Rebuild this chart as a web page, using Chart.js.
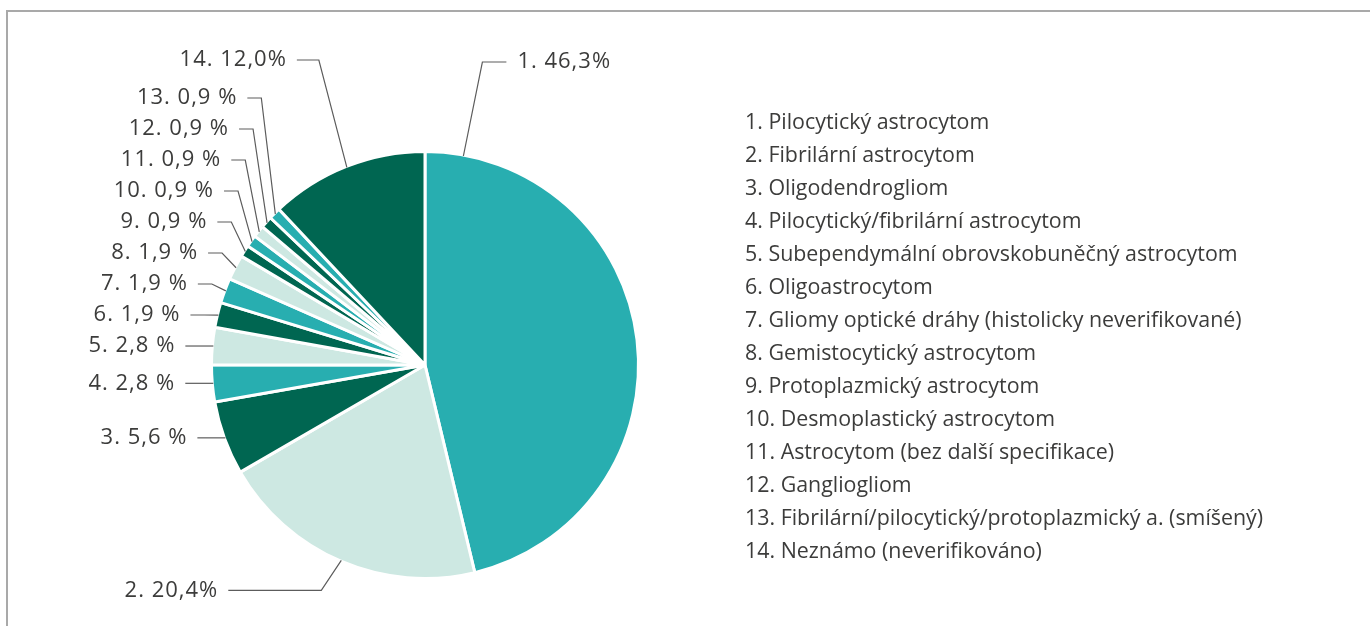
<!DOCTYPE html>
<html>
<head>
<meta charset="utf-8">
<script src="https://cdn.jsdelivr.net/npm/chart.js@4"></script>
<style>
  body { margin: 0; background: #fff; }
  #frame {
    position: absolute; left: 6px; top: 10px; width: 1400px; height: 700px;
    border-top: 2px solid #a9a9a9; border-left: 2px solid #a9a9a9;
  }
  #wrap { position: absolute; left: 0; top: 0; width: 1370px; height: 626px; }
</style>
</head>
<body>
<div id="frame"></div>
<div id="wrap"><canvas id="pieChart" width="1370" height="626"></canvas></div>
<script>
const categories = [
  "Pilocytický astrocytom",
  "Fibrilární astrocytom",
  "Oligodendrogliom",
  "Pilocytický/fibrilární astrocytom",
  "Subependymální obrovskobuněčný astrocytom",
  "Oligoastrocytom",
  "Gliomy optické dráhy (histolicky neverifikované)",
  "Gemistocytický astrocytom",
  "Protoplazmický astrocytom",
  "Desmoplastický astrocytom",
  "Astrocytom (bez další specifikace)",
  "Gangliogliom",
  "Fibrilární/pilocytický/protoplazmický a. (smíšený)",
  "Neznámo (neverifikováno)",
];
const shares = [46.3, 20.4, 5.6, 2.8, 2.8, 1.9, 1.9, 1.9, 0.9, 0.9, 0.9, 0.9, 0.9, 12.0];
const shareLabels = [
  "46,3%", "20,4%", "5,6 %", "2,8 %", "2,8 %", "1,9 %", "1,9 %",
  "1,9 %", "0,9 %", "0,9 %", "0,9 %", "0,9 %", "0,9 %", "12,0%",
];

const TEAL = "#28aeb0";
const LIGHT = "#cde8e2";
const DARK = "#006651";
const sliceColors = [TEAL, LIGHT, DARK, TEAL, LIGHT, DARK, TEAL, LIGHT, DARK, TEAL, LIGHT, DARK, TEAL, DARK];

const TEXT = "#3c3c3b";

// leader lines + numbered labels round the pie, list of names on the right
const labelPlugin = {
  id: "leaders",
  afterDraw(chart) {
    const ctx = chart.ctx;
    const arcs = chart.getDatasetMeta(0).data;
    const n = arcs.length;
    ctx.save();
    ctx.font = '22px "Open Sans"';
    ctx.letterSpacing = "1px";
    ctx.fillStyle = TEXT;
    ctx.strokeStyle = "#5c5c5c";
    ctx.lineWidth = 1.2;
    ctx.textBaseline = "middle";

    const spots = arcs.map((arc, i) => {
      const p = arc.getProps(["x", "y", "startAngle", "endAngle", "outerRadius"], true);
      const f = i === 0 ? 0.0625 : 0.5;
      const a = p.startAngle + (p.endAngle - p.startAngle) * f;
      const r = p.outerRadius - 1;
      return { x: p.x + r * Math.cos(a), y: p.y + r * Math.sin(a) };
    });

    // stack the small left-hand labels upwards so they do not collide
    const rows = [];
    let prev = Infinity;
    for (let i = 2; i < n; i++) {
      const gap = i === n - 1 ? 38 : 31;
      rows[i] = Math.min(spots[i].y, prev - gap);
      prev = rows[i];
    }
    rows[1] = spots[1].y + 30;
    rows[0] = rows[n - 1] + 2;

    for (let i = 0; i < n; i++) {
      const s = spots[i];
      const y = rows[i];
      const text = (i + 1) + ". " + shareLabels[i];
      ctx.beginPath();
      ctx.moveTo(s.x, s.y);
      if (i === 0) {
        const ex = s.x + 19;
        ctx.lineTo(ex, y);
        ctx.lineTo(ex + 24, y);
        ctx.stroke();
        ctx.textAlign = "left";
        ctx.fillText(text, ex + 35, y);
      } else {
        let dx = 14, seg = 14;
        if (i === 1) { dx = 20; seg = 93; }
        if (i === n - 1) { dx = 28; seg = 22; }
        const ex = s.x - dx;
        ctx.lineTo(ex, y);
        ctx.lineTo(ex - seg, y);
        ctx.stroke();
        ctx.textAlign = "right";
        ctx.fillText(text, ex - seg - 10, y);
      }
    }

    ctx.letterSpacing = "0px";
    ctx.font = '21.4px "Open Sans"';
    ctx.textAlign = "left";
    categories.forEach((name, i) => {
      ctx.fillText((i + 1) + ". " + name, 745, 123 + i * 33);
    });
    ctx.restore();
  },
};

new Chart(document.getElementById("pieChart"), {
  type: "pie",
  data: {
    labels: categories,
    datasets: [
      {
        data: shares,
        backgroundColor: sliceColors,
        borderColor: "#ffffff",
        borderWidth: 3,
      },
    ],
  },
  options: {
    responsive: false,
    animation: false,
    layout: { padding: { left: 210, right: 730, top: 150, bottom: 46 } },
    plugins: {
      legend: { display: false },
      tooltip: { enabled: false },
    },
  },
  plugins: [labelPlugin],
});
</script>
</body>
</html>
